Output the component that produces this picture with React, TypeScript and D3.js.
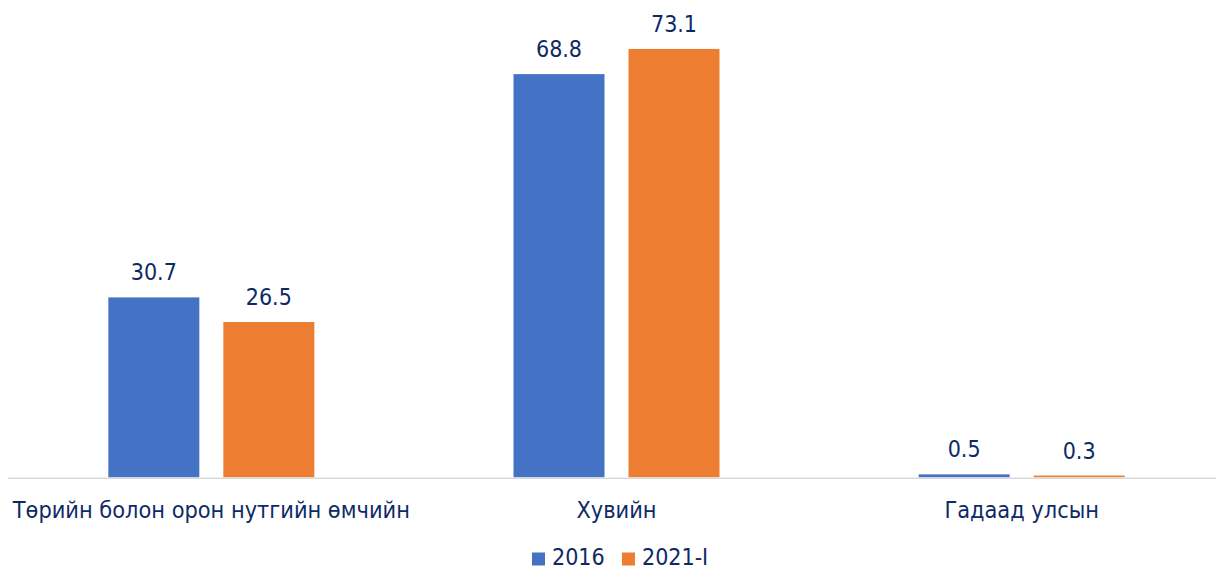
import React from "react";
import * as d3 from "d3";

const categories = ["Төрийн болон орон нутгийн өмчийн", "Хувийн", "Гадаад улсын"];
const seriesNames = ["2016", "2021-I"];
const values2016 = [30.7, 68.8, 0.5];
const values2021 = [26.5, 73.1, 0.3];
const seriesColors = ["#4472C4", "#ED7D31"];

const W = 1216;
const H = 571;
const TEXT = "#0E2A66";
const FONT = "'DejaVu Sans Condensed', 'DejaVu Sans', sans-serif";

export default function App() {
  const x0 = d3.scaleBand<string>().domain(categories).range([8.75, 1224.25]).padding(0);
  const step = x0.bandwidth();
  const groupW = 206;
  const x1 = d3
    .scaleBand<string>()
    .domain(seriesNames)
    .range([(step - groupW) / 2, (step + groupW) / 2])
    .paddingInner(24 / 115)
    .paddingOuter(0);
  const y = d3.scaleLinear().domain([0, 80]).range([477.3, 8.5]);
  const series = [values2016, values2021];

  return (
    <svg width={W} height={H} style={{ position: "absolute", left: 0, top: 0, background: "#fff" }} fontFamily={FONT}>
      {categories.map((c, i) => (
        <g key={c} transform={`translate(${x0(c)},0)`}>
          {seriesNames.map((s, j) => {
            const v = series[j][i];
            const bx = x1(s)!;
            const bw = x1.bandwidth();
            return (
              <g key={s}>
                <rect x={bx} y={y(v)} width={bw} height={y(0) - y(v)} fill={seriesColors[j]} />
                <text
                  x={bx + bw / 2}
                  y={y(v) - 17}
                  textAnchor="middle"
                  fontSize={23}
                  fill={TEXT}
                >
                  {v.toFixed(1)}
                </text>
              </g>
            );
          })}
          <text x={step / 2} y={518} textAnchor="middle" fontSize={23.3} fill={TEXT}>
            {c}
          </text>
        </g>
      ))}
      <line x1={8} x2={1216} y1={478.3} y2={478.3} stroke="#D9D9D9" strokeWidth={1.5} />
      <g>
        {seriesNames.map((s, j) => {
          const lx = [532, 622][j];
          return (
            <g key={s}>
              <rect x={lx} y={552.5} width={13} height={13} fill={seriesColors[j]} />
              <text x={lx + 20} y={565} fontSize={23} fill={TEXT}>
                {s}
              </text>
            </g>
          );
        })}
      </g>
    </svg>
  );
}
